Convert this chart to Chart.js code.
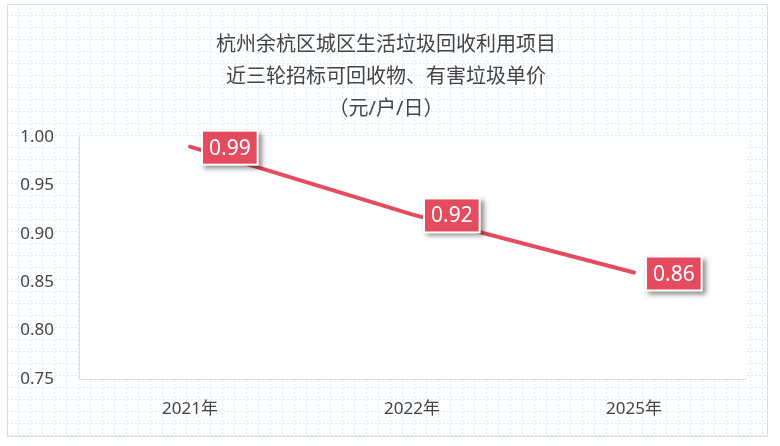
<!DOCTYPE html>
<html>
<head>
<meta charset="utf-8">
<script src="https://cdn.jsdelivr.net/npm/chart.js@4.4.1/dist/chart.umd.min.js"></script>
<style>
html,body{margin:0;padding:0;background:#fff;}
#wrap{width:780px;height:446px;}
</style>
</head>
<body>
<div id="wrap"><canvas id="c" width="780" height="446"></canvas></div>
<script>
const categories = ['2021年', '2022年', '2025年'];
const prices = [0.99, 0.92, 0.86];
const yTicks = [0.75, 0.80, 0.85, 0.90, 0.95, 1.00];
const titleLines = ['杭州余杭区城区生活垃圾回收利用项目', '近三轮招标可回收物、有害垃圾单价'];
const subtitleText = '（元/户/日）';

const FONT = '"Noto Sans", "Noto Sans CJK SC", sans-serif';
const RED = '#e44b5f';

const bgPlugin = {
  id: 'bg',
  beforeDraw(chart) {
    const ctx = chart.ctx;
    const W = chart.width, H = chart.height;
    const ca = chart.chartArea;
    ctx.save();
    ctx.fillStyle = '#fff';
    ctx.fillRect(0, 0, W, H);
    const L = 7, T = 4, R = 767, B = 436;
    ctx.strokeStyle = '#d8eaf8';
    ctx.lineWidth = 1;
    ctx.setLineDash([2, 2]);
    ctx.beginPath();
    for (let x = 18; x < R; x += 12) { ctx.moveTo(x + 0.5, T); ctx.lineTo(x + 0.5, B); }
    for (let y = 15; y < B; y += 12) { ctx.moveTo(L, y + 0.5); ctx.lineTo(R, y + 0.5); }
    ctx.stroke();
    ctx.setLineDash([]);
    ctx.strokeStyle = '#dcdcdc';
    ctx.strokeRect(L + 0.5, T + 0.5, R - L, B - T);
    ctx.fillStyle = '#fff';
    ctx.fillRect(ca.left, ca.top, ca.right - ca.left, ca.bottom - ca.top);
    ctx.restore();
  }
};

const labelPlugin = {
  id: 'boxLabels',
  afterDatasetsDraw(chart) {
    const ctx = chart.ctx;
    const meta = chart.getDatasetMeta(0);
    const data = chart.data.datasets[0].data;
    ctx.save();
    ctx.font = '21px ' + FONT;
    meta.data.forEach((pt, i) => {
      const txt = data[i].toFixed(2);
      const tw = ctx.measureText(txt).width;
      const w = tw + 12, h = 32;
      const x = pt.x + 13, y = pt.y + 1 - h / 2;
      ctx.save();
      ctx.shadowColor = 'rgba(0,0,0,0.45)';
      ctx.shadowBlur = 5;
      ctx.shadowOffsetX = 3;
      ctx.shadowOffsetY = 3;
      ctx.fillStyle = '#fff';
      ctx.fillRect(x - 2, y - 2, w + 4, h + 4);
      ctx.restore();
      ctx.fillStyle = RED;
      ctx.fillRect(x, y, w, h);
      ctx.fillStyle = '#fff';
      ctx.textAlign = 'center';
      ctx.textBaseline = 'middle';
      ctx.fillText(txt, x + w / 2, y + h / 2 + 1);
    });
    ctx.restore();
  }
};

new Chart(document.getElementById('c'), {
  type: 'line',
  data: {
    labels: categories,
    datasets: [{
      data: prices,
      yAxisID: 'y',
      borderColor: RED,
      borderWidth: 4,
      borderCapStyle: 'round',
      tension: 0,
      pointRadius: 0,
      fill: false
    }]
  },
  options: {
    responsive: false,
    animation: false,
    devicePixelRatio: 1,
    layout: { padding: { left: 0, right: 8, top: 0, bottom: 0 } },
    plugins: {
      legend: { display: false },
      tooltip: { enabled: false },
      title: {
        display: true,
        text: titleLines,
        color: '#444',
        font: { family: FONT, size: 20, weight: 'normal', lineHeight: 32 / 20 },
        padding: { top: 29, bottom: 0 }
      },
      subtitle: {
        display: true,
        text: subtitleText,
        color: '#444',
        font: { family: FONT, size: 20, weight: 'normal', lineHeight: 32 / 20 },
        padding: { top: 0, bottom: 12 }
      }
    },
    scales: {
      x: {
        offset: true,
        grid: { display: false, drawTicks: false },
        border: { display: true, color: '#dddddd', width: 1 },
        ticks: { color: '#444', font: { family: FONT, size: 17 }, padding: 20 },
        afterFit(s) { s.height = 67; }
      },
      y: {
        position: 'left',
        min: 0.75,
        max: 1.00,
        afterBuildTicks(s) { s.ticks = yTicks.map(v => ({ value: v })); },
        grid: { display: false, drawTicks: false },
        border: { display: true, color: '#dddddd', width: 1 },
        ticks: {
          color: '#444',
          font: { family: FONT, size: 17 },
          padding: 25,
          callback: v => Number(v).toFixed(2)
        },
        afterFit(s) { s.width = 79; }
      },
      yRight: {
        position: 'right',
        display: true,
        grid: { display: false, drawTicks: false },
        border: { display: false },
        ticks: { display: false },
        afterFit(s) { s.width = 27; }
      }
    }
  },
  plugins: [bgPlugin, labelPlugin]
});
</script>
</body>
</html>
